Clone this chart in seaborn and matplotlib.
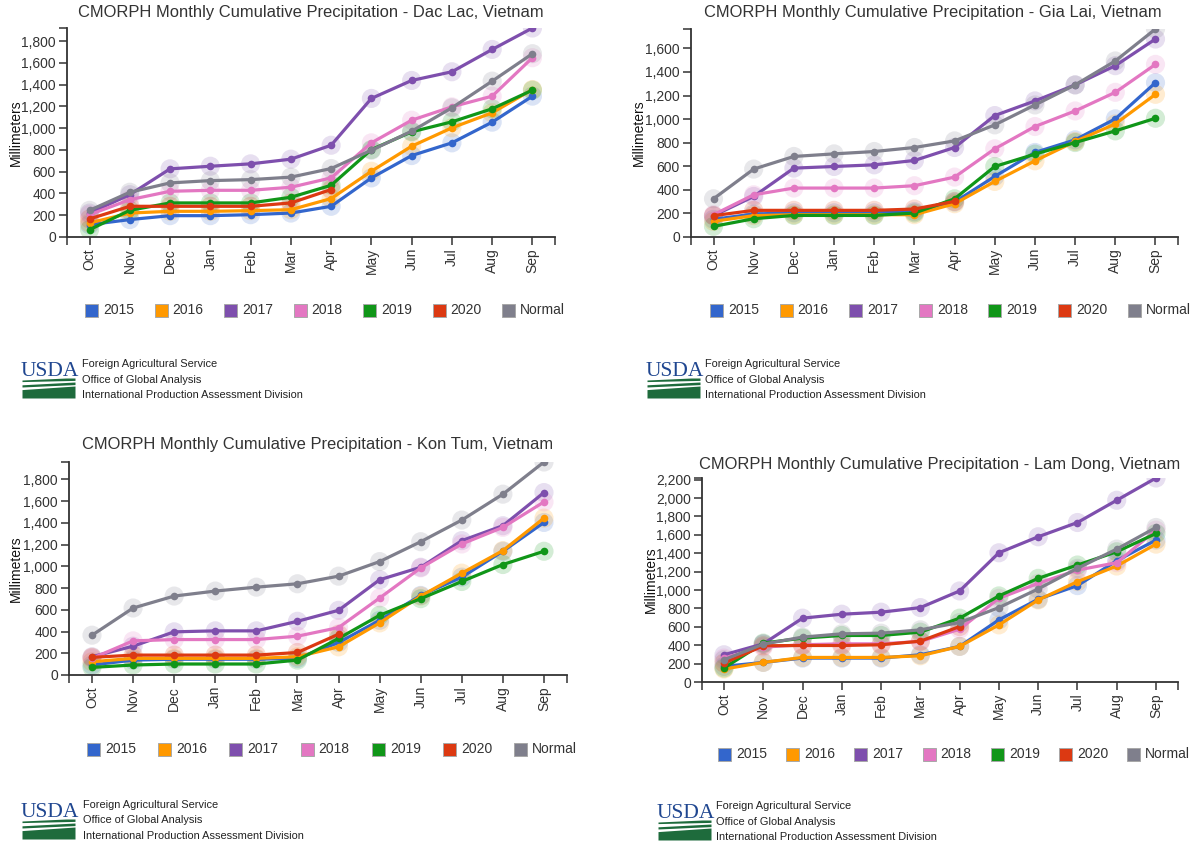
import matplotlib
matplotlib.use("Agg")
import matplotlib.pyplot as plt
import numpy as np
import pandas as pd
import seaborn as sns
from matplotlib import font_manager
from matplotlib.patches import Rectangle
from matplotlib.ticker import FuncFormatter, FixedLocator

# ---------------------------------------------------------------- data
MONTHS = ["Oct", "Nov", "Dec", "Jan", "Feb", "Mar", "Apr",
          "May", "Jun", "Jul", "Aug", "Sep"]
SERIES = ["2015", "2016", "2017", "2018", "2019", "2020", "Normal"]
COLORS = ["#3366cc", "#ff9900", "#7e4fad", "#e377c2", "#109618", "#dc3912", "#7f7f8c"]

DAC_LAC_2015 = [113, 160, 196, 196, 205, 220, 282, 543, 748, 865, 1055, 1294]
DAC_LAC_2016 = [129, 220, 236, 236, 242, 251, 353, 604, 834, 1003, 1141, 1355]
DAC_LAC_2017 = [220, 389, 626, 650, 672, 715, 843, 1273, 1438, 1518, 1723, 1920]
DAC_LAC_2018 = [205, 343, 420, 429, 429, 457, 543, 865, 1073, 1196, 1294, 1647]
DAC_LAC_2019 = [67, 245, 313, 313, 313, 365, 475, 803, 966, 1058, 1178, 1349]
DAC_LAC_2020 = [166, 282, 282, 282, 282, 313, 436]
DAC_LAC_NORMAL = [245, 411, 497, 518, 527, 550, 629, 797, 972, 1187, 1432, 1684]

GIA_LAI_2015 = [150, 195, 205, 205, 205, 215, 296, 514, 717, 824, 1002, 1309]
GIA_LAI_2016 = [133, 181, 189, 189, 189, 189, 282, 471, 646, 810, 959, 1210]
GIA_LAI_2017 = [181, 344, 584, 598, 612, 649, 759, 1030, 1154, 1290, 1453, 1679]
GIA_LAI_2018 = [189, 358, 415, 415, 415, 435, 508, 748, 937, 1069, 1227, 1464]
GIA_LAI_2019 = [90, 155, 183, 183, 183, 203, 324, 598, 703, 801, 900, 1007]
GIA_LAI_2020 = [181, 226, 226, 226, 226, 237, 302]
GIA_LAI_NORMAL = [324, 576, 683, 705, 725, 759, 815, 951, 1120, 1290, 1493, 1764]

KON_TUM_2015 = [92, 137, 145, 145, 145, 153, 299, 503, 732, 900, 1138, 1403]
KON_TUM_2016 = [122, 153, 153, 153, 153, 168, 259, 479, 726, 937, 1144, 1443]
KON_TUM_2017 = [168, 265, 397, 406, 406, 494, 595, 876, 991, 1236, 1373, 1678]
KON_TUM_2018 = [153, 314, 326, 326, 326, 357, 436, 708, 985, 1205, 1358, 1592]
KON_TUM_2019 = [70, 92, 101, 101, 101, 137, 336, 549, 702, 860, 1016, 1138]
KON_TUM_2020 = [162, 183, 183, 183, 183, 207, 375]
KON_TUM_NORMAL = [366, 616, 726, 772, 808, 839, 909, 1043, 1226, 1425, 1663, 1959]

LAM_DONG_2015 = [170, 213, 260, 260, 260, 296, 387, 676, 900, 1048, 1319, 1543]
LAM_DONG_2016 = [141, 213, 267, 267, 267, 285, 387, 621, 892, 1091, 1261, 1499]
LAM_DONG_2017 = [296, 415, 694, 737, 759, 809, 990, 1405, 1579, 1734, 1976, 2218]
LAM_DONG_2018 = [260, 379, 405, 415, 415, 441, 574, 910, 1073, 1217, 1297, 1651]
LAM_DONG_2019 = [152, 423, 477, 506, 506, 542, 694, 936, 1127, 1272, 1416, 1615]
LAM_DONG_2020 = [206, 394, 397, 397, 405, 444, 603]
LAM_DONG_NORMAL = [242, 412, 488, 524, 531, 567, 647, 809, 1012, 1236, 1445, 1680]

PROVINCES = ["Dac Lac", "Gia Lai", "Kon Tum", "Lam Dong"]
AGENCY_LINES = ["Foreign Agricultural Service",
                "Office of Global Analysis",
                "International Production Assessment Division"]

PROVINCE_SERIES = {
    "Dac Lac": [DAC_LAC_2015, DAC_LAC_2016, DAC_LAC_2017, DAC_LAC_2018,
                DAC_LAC_2019, DAC_LAC_2020, DAC_LAC_NORMAL],
    "Gia Lai": [GIA_LAI_2015, GIA_LAI_2016, GIA_LAI_2017, GIA_LAI_2018,
                GIA_LAI_2019, GIA_LAI_2020, GIA_LAI_NORMAL],
    "Kon Tum": [KON_TUM_2015, KON_TUM_2016, KON_TUM_2017, KON_TUM_2018,
                KON_TUM_2019, KON_TUM_2020, KON_TUM_NORMAL],
    "Lam Dong": [LAM_DONG_2015, LAM_DONG_2016, LAM_DONG_2017, LAM_DONG_2018,
                 LAM_DONG_2019, LAM_DONG_2020, LAM_DONG_NORMAL],
}

# ---------------------------------------------------------------- style
sns.set_theme(style="ticks")
plt.rcParams["font.family"] = ["Liberation Sans", "DejaVu Sans"]
installed = {f.name for f in font_manager.fontManager.ttflist}
NARROW = "Liberation Sans Narrow" if "Liberation Sans Narrow" in installed else "Liberation Sans"
TEXT = "#333333"
PALETTE = dict(zip(SERIES, COLORS))

W, H = 1191, 848
fig = plt.figure(figsize=(W / 100, H / 100), dpi=100, facecolor="white")


def fx(x):
    return x / W


def fy(y):
    return 1 - y / H


# layout of each panel in pixels
LAYOUT = {
    "Dac Lac": dict(ax=(67, 28, 555, 237), title=(311, 13), ylab=(16, 133),
                    legend=(85, 310, 69.5), logo=(22, 82, [364, 380, 395])),
    "Gia Lai": dict(ax=(691, 29, 1178, 237), title=(933, 13), ylab=(639, 133),
                    legend=(710, 310, 69.6), logo=(647, 705, [364, 380, 395])),
    "Kon Tum": dict(ax=(69, 462, 567, 675), title=(318, 445), ylab=(16, 569),
                    legend=(87, 749, 71.2), logo=(22, 83, [805, 820, 836])),
    "Lam Dong": dict(ax=(702, 478, 1178, 682), title=(940, 464), ylab=(651, 580),
                     legend=(718, 754, 68.2), logo=(658, 716, [806, 822, 837])),
}


def draw_logo(x0, xt, ys):
    top = ys[0]
    fig.text(fx(x0 - 1), fy(top + 12), "USDA", fontsize=15.5, color="#1f4690",
             family=["Liberation Serif", "DejaVu Serif"], ha="left", va="baseline")
    lax = fig.add_axes([fx(x0), fy(top + 34), fx(53), 20 / H])
    lax.set_xlim(0, 1)
    lax.set_ylim(0, 1)
    lax.axis("off")
    xs = np.linspace(0, 1, 30)
    green = "#1e6b3c"
    lax.fill_between(xs, 0, 0.42 + 0.18 * xs, color=green, lw=0)
    lax.fill_between(xs, 0.55 + 0.12 * xs, 0.66 + 0.14 * xs, color=green, lw=0)
    lax.fill_between(xs, 0.82 + 0.06 * xs, np.minimum(0.9 + 0.12 * xs, 1.0), color=green, lw=0)
    for line, yy in zip(AGENCY_LINES, ys):
        fig.text(fx(xt), fy(yy), line, fontsize=7.9, color="#222222",
                 family=[NARROW, "DejaVu Sans"], ha="left", va="center")


for province in PROVINCES:
    spec = LAYOUT[province]
    rows = []
    for name, values in zip(SERIES, PROVINCE_SERIES[province]):
        for i, v in enumerate(values):
            rows.append({"pos": i, "month": MONTHS[i], "series": name, "mm": v})
    df = pd.DataFrame(rows)
    ymax = df["mm"].max()

    l, t, r, b = spec["ax"]
    ax = fig.add_axes([fx(l), fy(b), fx(r - l), (b - t) / H])

    # soft halo behind each point
    sns.scatterplot(data=df, x="pos", y="mm", hue="series", hue_order=SERIES,
                    palette=PALETTE, s=190, alpha=0.18, linewidth=0,
                    legend=False, ax=ax, zorder=2)
    sns.lineplot(data=df, x="pos", y="mm", hue="series", hue_order=SERIES,
                 palette=PALETTE, estimator=None, sort=False, linewidth=2.3,
                 marker="o", markersize=5.5, markeredgewidth=0,
                 legend=False, ax=ax, zorder=3)

    pad = 0.56
    ax.set_xlim(-pad, len(MONTHS) - 1 + pad)
    ax.set_ylim(0, ymax)
    ax.set_xticks(range(len(MONTHS)))
    ax.set_xticklabels(MONTHS, rotation=90)
    ax.set_yticks(np.arange(0, ymax + 1, 200))
    ax.yaxis.set_major_formatter(FuncFormatter(lambda v, p: f"{v:,.0f}"))
    ax.xaxis.set_minor_locator(FixedLocator([-pad, len(MONTHS) - 1 + pad]))
    ax.yaxis.set_minor_locator(FixedLocator([ymax]))
    ax.tick_params(which="both", direction="out", length=6, width=1.1,
                   color=TEXT, labelcolor=TEXT, labelsize=10, pad=2,
                   bottom=True, left=True)
    ax.set_xlabel("")
    ax.set_ylabel("")
    for side in ("top", "right"):
        ax.spines[side].set_visible(False)
    for side in ("left", "bottom"):
        ax.spines[side].set_color(TEXT)
        ax.spines[side].set_linewidth(1.3)
    ax.set_facecolor("white")

    tx, ty = spec["title"]
    fig.text(fx(tx), fy(ty), f"CMORPH Monthly Cumulative Precipitation - {province}, Vietnam",
             fontsize=11.9, color=TEXT, ha="center", va="center")
    lx, ly = spec["ylab"]
    fig.text(fx(lx), fy(ly), "Millimeters", fontsize=10, color="#111111",
             rotation=90, ha="center", va="center")

    gx, gy, gdx = spec["legend"]
    for i, (name, col) in enumerate(zip(SERIES, COLORS)):
        sx = gx + i * gdx
        fig.add_artist(Rectangle((fx(sx), fy(gy + 6.5)), 13 / W, 13 / H,
                                 transform=fig.transFigure, facecolor=col,
                                 edgecolor="#a8a8a8", linewidth=0.7))
        fig.text(fx(sx + 18), fy(gy), name, fontsize=10, color=TEXT,
                 ha="left", va="center")

    x0, xt, ys = spec["logo"]
    draw_logo(x0, xt, ys)

fig.savefig("out.png", dpi=100, facecolor="white")
